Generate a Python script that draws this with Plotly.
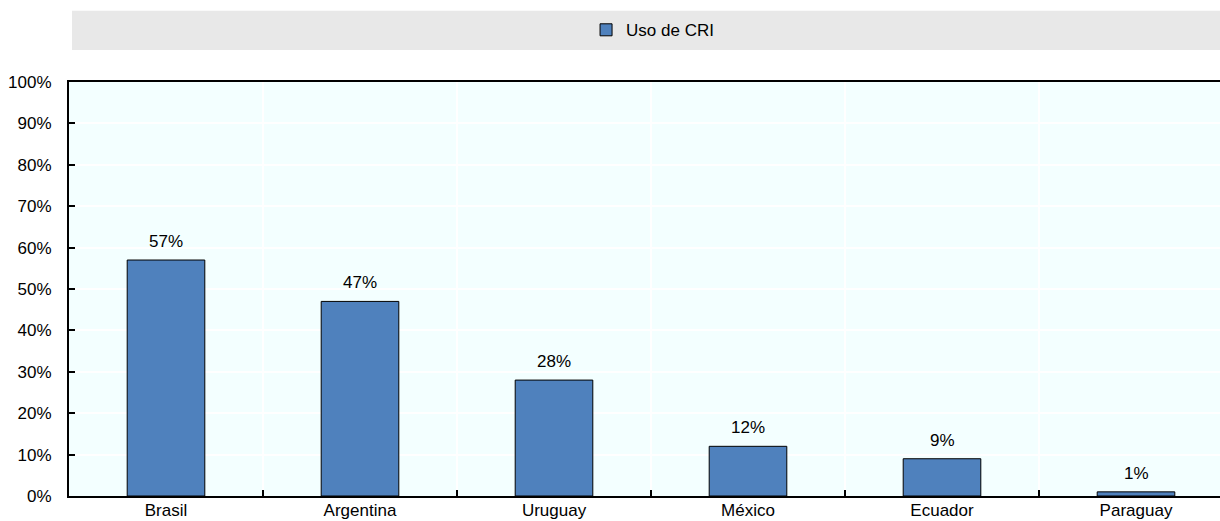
import plotly.graph_objects as go

# Share of firms using CRI, by country
countries = ["Brasil", "Argentina", "Uruguay", "México", "Ecuador", "Paraguay"]
uso_cri = [57, 47, 28, 12, 9, 1]
y_ticks = [0, 10, 20, 30, 40, 50, 60, 70, 80, 90, 100]
y_tick_labels = [f"{v}%" for v in y_ticks]
series_name = "Uso de CRI"

FONT = "Liberation Sans Narrow, Arial Narrow, Liberation Sans, Arial, sans-serif"
BAR_COLOR = "#4F81BD"

fig = go.Figure()
fig.add_trace(go.Bar(
    x=countries,
    y=uso_cri,
    name=series_name,
    width=0.4,
    marker=dict(color=BAR_COLOR, line=dict(color="#000000", width=1)),
    showlegend=True,
))

# value labels above each bar
for c, v in zip(countries, uso_cri):
    fig.add_annotation(
        x=c, y=v, text=f"{v}%", showarrow=False,
        yanchor="bottom", yshift=7,
        font=dict(family=FONT, size=17, color="#000000"),
    )

# grey band behind the legend
fig.add_shape(
    type="rect", xref="paper", yref="paper",
    x0=0.0026, x1=1.0, y0=1.077, y1=1.172,
    fillcolor="#E8E8E8", line=dict(width=0), layer="below",
)

fig.update_layout(
    width=1220, height=521,
    margin=dict(l=69, r=0, t=82, b=25),
    paper_bgcolor="#FFFFFF",
    plot_bgcolor="#F3FFFF",
    font=dict(family=FONT, size=17, color="#000000"),
    showlegend=True,
    legend=dict(
        orientation="h", x=0.507, xanchor="center",
        y=1.125, yanchor="middle", yref="paper",
        bgcolor="rgba(0,0,0,0)",
        font=dict(family=FONT, size=17, color="#000000"),
        itemwidth=30,
    ),
    bargap=0.6,
)

fig.update_xaxes(
    type="category",
    range=[-0.5, 5.433],
    tickson="boundaries",
    ticks="inside", ticklen=6, tickcolor="#000000", tickwidth=2,
    ticklabelstandoff=-2,
    automargin=False,
    showgrid=True, gridcolor="#FFFFFF", gridwidth=1.5,
    showline=True, linecolor="#000000", linewidth=2, mirror=True,
    tickfont=dict(family=FONT, size=17, color="#000000"),
)

fig.update_yaxes(
    range=[0, 100],
    tickvals=y_ticks, ticktext=y_tick_labels,
    ticks="inside", ticklen=6, tickcolor="#000000", tickwidth=2,
    ticklabelstandoff=12,
    automargin=False,
    showgrid=True, gridcolor="#FFFFFF", gridwidth=1.5,
    zeroline=False,
    showline=True, linecolor="#000000", linewidth=2, mirror=True,
    tickfont=dict(family=FONT, size=17, color="#000000"),
)

fig.write_html("out.html")
